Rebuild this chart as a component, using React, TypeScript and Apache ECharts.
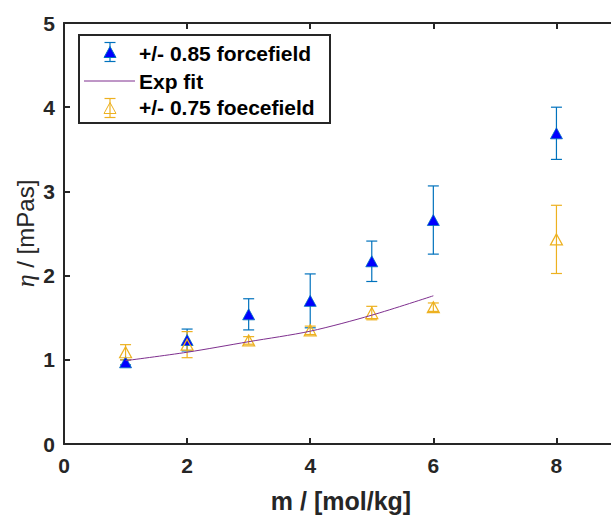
import React, { useEffect, useRef } from "react";
import * as echarts from "echarts";

// molality (mol/kg) and measured viscosity (mPa s) for the two force fields
const molality = [1, 2, 3, 4, 5, 6, 8];
const visc085 = [0.97, 1.235, 1.54, 1.7, 2.17, 2.66, 3.69];
const err085 = [0.03, 0.13, 0.185, 0.32, 0.24, 0.405, 0.31];
const visc075 = [1.09, 1.18, 1.23, 1.35, 1.555, 1.625, 2.43];
const err075 = [0.09, 0.155, 0.045, 0.05, 0.08, 0.05, 0.405];

// exponential fit through the 0.75 force-field data
const fitX = [1, 2, 3, 4, 5, 6];
const fitY = [0.99, 1.09, 1.215, 1.34, 1.53, 1.76];

const xTicks = [0, 2, 4, 6, 8];
const yTicks = [0, 1, 2, 3, 4, 5];

const BLUE_LINE = "#0072BD";
const BLUE_FILL = "#0000FF";
const ORANGE = "#EDB120";
const PURPLE = "#7E2F8E";
const INK = "#262626";
const FONT = "Liberation Sans, Arial, Helvetica, sans-serif";

function errorBarSeries(values: number[], errs: number[], color: string) {
  return {
    type: "custom",
    xAxisIndex: 0,
    yAxisIndex: 0,
    data: molality.map((m, i) => [m, values[i] - errs[i], values[i] + errs[i]]),
    encode: { x: 0, y: [1, 2] },
    renderItem: (_params: any, api: any) => {
      const x = api.value(0);
      const lo = api.coord([x, api.value(1)]);
      const hi = api.coord([x, api.value(2)]);
      const hw = 5.5;
      const style = { stroke: color, lineWidth: 1.2, fill: "none" };
      return {
        type: "group",
        children: [
          { type: "line", shape: { x1: lo[0], y1: lo[1], x2: hi[0], y2: hi[1] }, style },
          { type: "line", shape: { x1: hi[0] - hw, y1: hi[1], x2: hi[0] + hw, y2: hi[1] }, style },
          { type: "line", shape: { x1: lo[0] - hw, y1: lo[1], x2: lo[0] + hw, y2: lo[1] }, style },
        ],
      };
    },
    silent: true,
  };
}

function legendIcon(cx: number, cy: number, color: string, fill: string, edge: string) {
  const hw = 5.5;
  const top = cy - 9.5;
  const bot = cy + 9.5;
  const st = { stroke: color, lineWidth: 1.2, fill: "none" };
  return [
    { type: "line", z: 101, shape: { x1: cx, y1: top, x2: cx, y2: bot }, style: st },
    { type: "line", z: 101, shape: { x1: cx - hw, y1: top, x2: cx + hw, y2: top }, style: st },
    { type: "line", z: 101, shape: { x1: cx - hw, y1: bot, x2: cx + hw, y2: bot }, style: st },
    {
      type: "polygon",
      z: 102,
      shape: { points: [[cx, cy - 5.5], [cx + 6, cy + 5.5], [cx - 6, cy + 5.5]] },
      style: { fill, stroke: edge, lineWidth: 1 },
    },
  ];
}

export default function App() {
  const ref = useRef<HTMLDivElement>(null);

  useEffect(() => {
    if (!ref.current) return;
    const chart = echarts.init(ref.current, undefined, { renderer: "svg" });

    const axisLine = { show: true, onZero: false, lineStyle: { color: INK, width: 2 } };
    const axisTick = { show: true, inside: true, length: 6, lineStyle: { color: INK, width: 2 } };

    const legendText = (text: string, y: number) => ({
      type: "text",
      z: 101,
      x: 139,
      y,
      style: {
        text,
        fill: "#000000",
        font: `bold 21px ${FONT}`,
        textVerticalAlign: "middle",
        verticalAlign: "middle",
      },
    });

    const option: any = {
      animation: false,
      backgroundColor: "#ffffff",
      textStyle: { fontFamily: FONT },
      grid: {
        left: 64,
        top: 23,
        right: 12,
        bottom: 71,
        containLabel: false,
        outerBoundsMode: "none",
      },
      xAxis: [
        {
          type: "value",
          position: "bottom",
          min: 0,
          max: 9,
          interval: 2,
          axisLine,
          axisTick,
          splitLine: { show: false },
          axisLabel: {
            margin: 11,
            color: INK,
            fontSize: 21,
            fontWeight: "bold",
            fontFamily: FONT,
            formatter: (v: number) => (xTicks.includes(v) ? String(v) : ""),
          },
          name: "m / [mol/kg]",
          nameLocation: "middle",
          nameGap: 44,
          nameMoveOverlap: false,
          nameTextStyle: { color: INK, fontSize: 25, fontWeight: "bold", fontFamily: FONT },
        },
        {
          type: "value",
          position: "top",
          min: 0,
          max: 9,
          interval: 2,
          axisLine,
          axisTick,
          splitLine: { show: false },
          axisLabel: { show: false },
        },
      ],
      yAxis: [
        {
          type: "value",
          position: "left",
          min: 0,
          max: 5,
          interval: 1,
          axisLine,
          axisTick,
          splitLine: { show: false },
          axisLabel: {
            margin: 9,
            color: INK,
            fontSize: 21,
            fontWeight: "bold",
            fontFamily: FONT,
            formatter: (v: number) => (yTicks.includes(v) ? String(v) : ""),
          },
          name: "{eta|η} / [mPas]",
          nameLocation: "middle",
          nameRotate: 90,
          nameGap: 26,
          nameMoveOverlap: false,
          nameTextStyle: {
            color: INK,
            fontSize: 24,
            fontWeight: 500,
            fontFamily: FONT,
            rich: {
              eta: {
                fontSize: 26,
                fontStyle: "italic",
                fontFamily: "Liberation Serif, DejaVu Serif, serif",
                color: INK,
              },
            },
          },
        },
        {
          type: "value",
          position: "right",
          min: 0,
          max: 5,
          interval: 1,
          axisLine,
          axisTick,
          splitLine: { show: false },
          axisLabel: { show: false },
        },
      ],
      series: [
        errorBarSeries(visc085, err085, BLUE_LINE),
        {
          type: "scatter",
          name: "+/- 0.85 forcefield",
          xAxisIndex: 0,
          yAxisIndex: 0,
          data: molality.map((m, i) => [m, visc085[i]]),
          symbol: "triangle",
          symbolSize: [12, 11],
          itemStyle: { color: BLUE_FILL, borderColor: BLUE_LINE, borderWidth: 0.8, opacity: 1 },
          silent: true,
        },
        {
          type: "line",
          name: "Exp fit",
          xAxisIndex: 0,
          yAxisIndex: 0,
          data: fitX.map((x, i) => [x, fitY[i]]),
          smooth: 0.3,
          showSymbol: false,
          lineStyle: { color: PURPLE, width: 1 },
          silent: true,
        },
        errorBarSeries(visc075, err075, ORANGE),
        {
          type: "scatter",
          name: "+/- 0.75 foecefield",
          xAxisIndex: 0,
          yAxisIndex: 0,
          data: molality.map((m, i) => [m, visc075[i]]),
          symbol: "triangle",
          symbolSize: [12, 11],
          itemStyle: { color: "rgba(0,0,0,0)", borderColor: ORANGE, borderWidth: 1.2, opacity: 1 },
          silent: true,
        },
      ],
      graphic: [
        {
          type: "rect",
          z: 100,
          shape: { x: 79, y: 35, width: 251, height: 88 },
          style: { fill: "#ffffff", stroke: INK, lineWidth: 2 },
        },
        ...legendIcon(110, 52, BLUE_LINE, BLUE_FILL, BLUE_LINE),
        {
          type: "line",
          z: 101,
          shape: { x1: 84, y1: 81, x2: 135, y2: 81 },
          style: { stroke: PURPLE, lineWidth: 1 },
        },
        ...legendIcon(110, 108, ORANGE, "rgba(0,0,0,0)", ORANGE),
        legendText("+/- 0.85 forcefield", 53),
        legendText("Exp fit", 81),
        legendText("+/- 0.75 foecefield", 107),
      ],
    };

    chart.setOption(option);
    return () => chart.dispose();
  }, []);

  return (
    <div style={{ position: "fixed", left: 0, top: 0, width: 611, height: 515, overflow: "hidden", background: "#fff" }}>
      <div ref={ref} style={{ width: 630, height: 515 }} />
    </div>
  );
}
